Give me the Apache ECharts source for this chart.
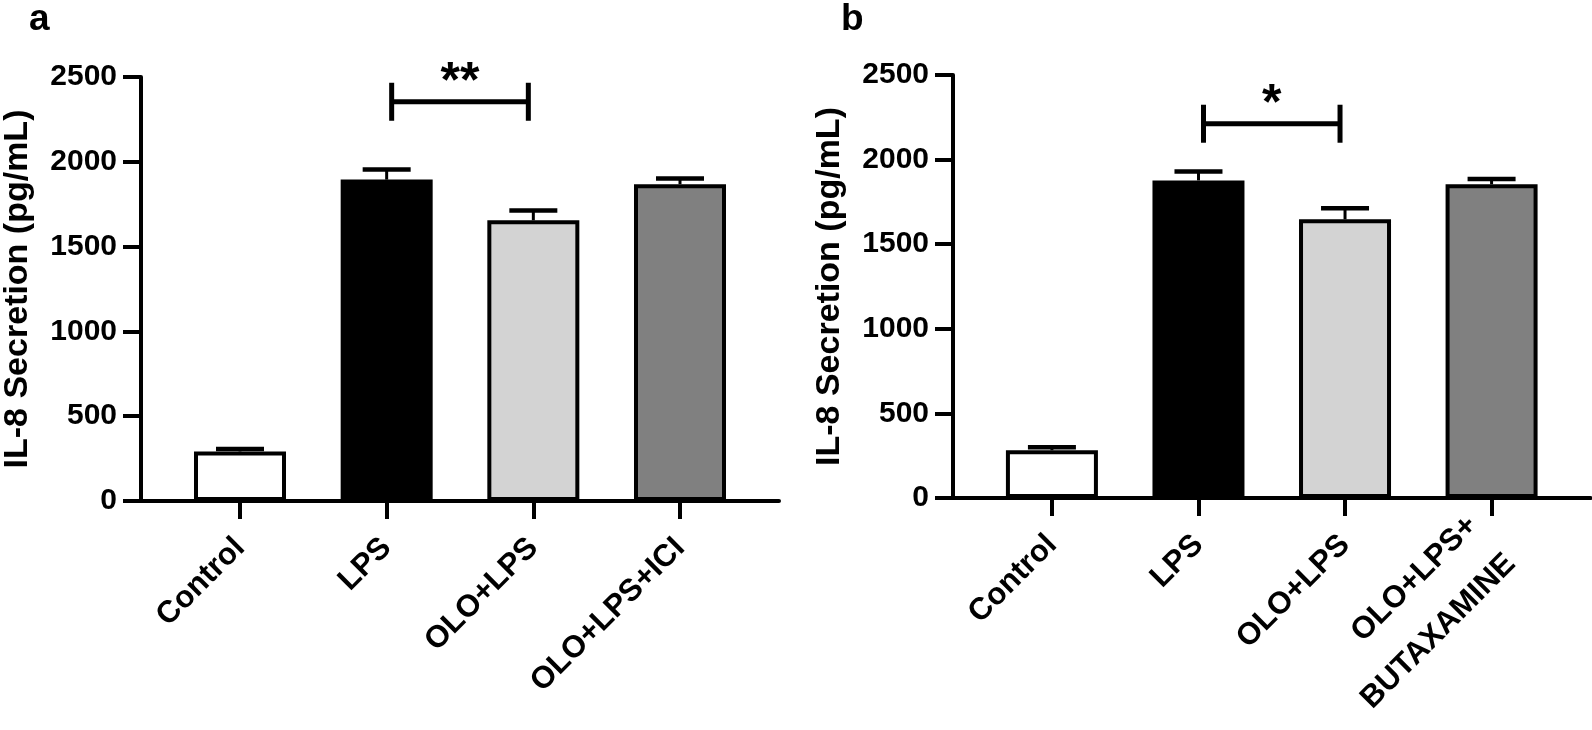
<!DOCTYPE html>
<html><head><meta charset="utf-8">
<script src="https://cdn.jsdelivr.net/npm/echarts@6/dist/echarts.min.js"></script>
<style>html,body{margin:0;padding:0;background:#fff}#c{width:1592px;height:730px}</style>
</head><body><div id="c"></div>
<script>
// ---- data ----
const categoriesA = ['Control', 'LPS', 'OLO+LPS', 'OLO+LPS+ICI'];
const categoriesB = ['Control', 'LPS', 'OLO+LPS', 'OLO+LPS+\nBUTAXAMINE'];
const meansA = [292, 1895, 1655, 1868];
const errorsA = [15, 60, 58, 33];
const meansB = [282, 1877, 1647, 1854];
const errorsB = [18, 53, 65, 32];
const barColors = ['#ffffff', '#000000', '#d3d3d3', '#808080'];
const sigA = ['**', 2, 3, 2354];   // label, from category, to category, bracket level
const sigB = ['*', 2, 3, 2212];
const panelLetters = ['a', 'b'];
const yTitle = 'IL-8 Secretion (pg/mL)';
const yMin = 0, yMax = 2500, yStep = 500;

const FONT = '"Liberation Sans", Arial, sans-serif';
const chart = echarts.init(document.getElementById('c'), null, {renderer: 'canvas'});

const panels = [
  {cats: categoriesA, means: meansA, errs: errorsA, sig: sigA},
  {cats: categoriesB, means: meansB, errs: errorsB, sig: sigB}
];
const grids = [
  {left: 141, top: 77, width: 638, height: 424},
  {left: 953, top: 75, width: 637.5, height: 423}
];

const xAxes = [], yAxes = [], series = [];
panels.forEach((p, i) => {
  const pos = p.cats.map((_, k) => k + 1);
  xAxes.push({
    type: 'value', gridIndex: i, min: 0.325, max: 4.675,
    splitLine: {show: false},
    axisLine: {show: true, onZero: false, lineStyle: {color: '#000', width: 4}},
    axisTick: {show: true, length: 18, customValues: pos, lineStyle: {color: '#000', width: 4}},
    axisLabel: {
      customValues: pos, rotate: 45, margin: 42, color: '#000',
      fontFamily: FONT, fontWeight: 'bold', fontSize: 31, lineHeight: 54,
      formatter: v => p.cats[Math.round(v) - 1] || ''
    }
  });
  yAxes.push({
    type: 'value', gridIndex: i, min: yMin, max: yMax, interval: yStep,
    splitLine: {show: false},
    axisLine: {show: true, lineStyle: {color: '#000', width: 4}},
    axisTick: {show: true, length: 18, lineStyle: {color: '#000', width: 4}},
    axisLabel: {margin: 24, color: '#000', fontFamily: FONT, fontWeight: 'bold', fontSize: 30,
      formatter: v => String(v)},
    name: yTitle, nameLocation: 'middle', nameGap: 106, nameRotate: 90,
    nameTextStyle: {color: '#000', fontFamily: FONT, fontWeight: 'bold', fontSize: 34}
  });
  series.push({
    type: 'bar', xAxisIndex: i, yAxisIndex: i, barWidth: 92, z: 2,
    itemStyle: {borderColor: '#000', borderWidth: 4},
    data: p.means.map((v, k) => ({value: [pos[k], v], itemStyle: {color: barColors[k], borderColor: '#000', borderWidth: 4}}))
  });
  series.push({
    type: 'custom', xAxisIndex: i, yAxisIndex: i, z: 3,
    data: p.means.map((v, k) => [pos[k], v, p.errs[k]]),
    renderItem: (params, api) => {
      const x = api.value(0), m = api.value(1), e = api.value(2);
      const a = api.coord([x, m]), b = api.coord([x, m + e]);
      return {type: 'group', children: [
        {type: 'line', shape: {x1: a[0], y1: a[1], x2: b[0], y2: b[1]}, style: {stroke: '#000', lineWidth: 3}},
        {type: 'line', shape: {x1: b[0] - 24, y1: b[1], x2: b[0] + 24, y2: b[1]}, style: {stroke: '#000', lineWidth: 4.5}}
      ]};
    }
  });
  series.push({
    type: 'custom', xAxisIndex: i, yAxisIndex: i, z: 4,
    data: [[p.sig[1], p.sig[2], p.sig[3]]],
    renderItem: (params, api) => {
      const l = api.coord([api.value(0), api.value(2)]);
      const r = api.coord([api.value(1), api.value(2)]);
      const x1 = l[0] + 5, x2 = r[0] - 5, y = l[1];
      return {type: 'group', children: [
        {type: 'line', shape: {x1: x1, y1: y, x2: x2, y2: y}, style: {stroke: '#000', lineWidth: 5}},
        {type: 'line', shape: {x1: x1, y1: y - 19, x2: x1, y2: y + 19}, style: {stroke: '#000', lineWidth: 5}},
        {type: 'line', shape: {x1: x2, y1: y - 19, x2: x2, y2: y + 19}, style: {stroke: '#000', lineWidth: 5}},
        {type: 'text', style: {text: p.sig[0], x: (x1 + x2) / 2, y: y - 19, align: 'center', verticalAlign: 'middle',
          font: 'bold 50px ' + FONT, fill: '#000'}}
      ]};
    }
  });
});

chart.setOption({
  animation: false,
  backgroundColor: '#fff',
  grid: grids,
  xAxis: xAxes,
  yAxis: yAxes,
  series: series,
  graphic: [
    {type: 'text', left: 29, top: 1, style: {text: panelLetters[0], font: 'bold 37px ' + FONT, fill: '#000'}},
    {type: 'text', left: 841, top: 1, style: {text: panelLetters[1], font: 'bold 37px ' + FONT, fill: '#000'}}
  ]
});
</script></body></html>
